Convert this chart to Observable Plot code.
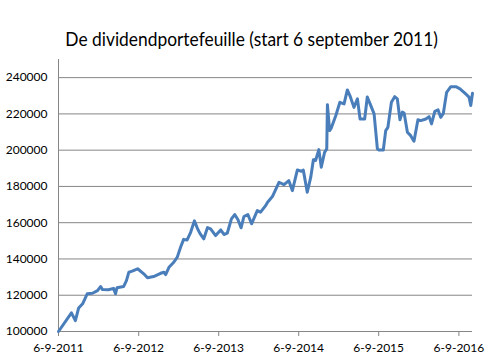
<!DOCTYPE html>
<html><head><meta charset="utf-8">
<script src="https://cdn.jsdelivr.net/npm/d3@7"></script>
<script src="https://cdn.jsdelivr.net/npm/@observablehq/plot@0.6"></script>
<style>
html,body{margin:0;padding:0;background:#fff;}
#title{height:50px;box-sizing:border-box;padding-top:29px;padding-left:17px;text-align:center;font-family:Lato,"Open Sans",sans-serif;font-size:19px;line-height:20px;color:#000;white-space:nowrap;}
#title span{display:inline-block;transform:scaleX(0.915);transform-origin:center;}
#chart svg{display:block;}
</style></head><body>
<div id="title"><span>De dividendportefeuille (start 6 september 2011)</span></div>
<div id="chart"></div>
<script>
const dates = [
"2011-09-06","2011-11-04","2011-11-22","2011-12-07","2011-12-25","2012-01-15","2012-02-08","2012-03-02","2012-03-16","2012-03-25",
"2012-04-21","2012-05-14","2012-05-23","2012-05-30","2012-06-29","2012-07-12","2012-07-23","2012-08-07","2012-09-01","2012-09-29",
"2012-10-16","2012-11-13","2012-12-15","2012-12-30","2013-01-07","2013-01-22","2013-02-13","2013-03-01","2013-03-16","2013-03-30",
"2013-04-15","2013-05-01","2013-05-18","2013-06-02","2013-06-13","2013-06-30","2013-07-17","2013-07-31","2013-08-23","2013-09-15",
"2013-09-30","2013-10-15","2013-11-03","2013-11-18","2013-12-03","2013-12-17","2013-12-30","2014-01-17","2014-02-03","2014-03-01",
"2014-03-16","2014-04-08","2014-04-17","2014-05-09","2014-06-08","2014-07-01","2014-07-23","2014-08-08","2014-08-31","2014-09-18",
"2014-09-27","2014-10-15","2014-10-31","2014-11-12","2014-11-22","2014-12-07","2014-12-18","2015-01-02","2015-01-12","2015-01-15",
"2015-01-25","2015-02-02","2015-02-22","2015-03-13","2015-04-01","2015-04-16","2015-04-28","2015-05-16","2015-06-01","2015-06-13",
"2015-07-04","2015-07-16","2015-08-01","2015-08-16","2015-08-31","2015-09-07","2015-09-27","2015-10-08","2015-10-18","2015-11-03",
"2015-11-18","2015-11-30","2015-12-12","2015-12-23","2015-12-31","2016-01-15","2016-01-30","2016-02-14","2016-03-03","2016-03-16",
"2016-04-08","2016-04-23","2016-05-04","2016-05-19","2016-06-03","2016-06-15","2016-06-27","2016-07-12","2016-07-31","2016-08-23",
"2016-09-11","2016-10-07","2016-10-22","2016-10-30","2016-11-07"
];
const values = [
100000,110300,106000,113000,115300,120800,121100,122500,124800,123100,
123000,123800,120800,124100,124800,128100,132700,133300,134600,131800,
129600,130300,132100,132700,131400,135400,138200,141000,146500,150800,
150500,154700,161000,156500,154000,151100,157300,156600,152900,156000,
153500,154200,162100,164500,161600,157200,163400,164500,159400,166700,
165800,169400,171300,174400,182300,181000,183200,177700,189100,188400,
189000,176800,185100,194700,194300,200300,190600,198800,200700,225100,
210800,212300,219000,226400,225500,233200,230000,223600,228300,217200,
217200,229300,224600,220000,200700,200100,200100,210800,212600,226400,
229500,228300,216800,221000,220500,209900,208000,204900,216800,216300,
217200,218500,214500,221400,222200,218100,220300,231900,235000,235000,
233800,231000,229300,224600,231400
];
const yTicks = [100000,120000,140000,160000,180000,200000,220000,240000];
const xTicks = ["2011-09-06","2012-09-06","2013-09-06","2014-09-06","2015-09-06","2016-09-06"];

const data = dates.map((d,i)=>({date:new Date(d), value:values[i]}));
const xTickDates = xTicks.map(d=>new Date(d));
const fmtDate = d => `${d.getUTCDate()}-${d.getUTCMonth()+1}-${d.getUTCFullYear()}`;
const gray = "#868686";

const chart = Plot.plot({
  width: 486,
  height: 311,
  marginLeft: 58,
  marginRight: 14,
  marginTop: 9,
  marginBottom: 30,
  style: {fontFamily: "Lato, 'Open Sans', sans-serif", fontSize: "12px", color: "#000", background: "#fff"},
  x: {type: "utc", domain: [data[0].date, data[data.length-1].date]},
  y: {domain: [100000, 250000]},
  marks: [
    Plot.ruleY(yTicks, {stroke: gray, strokeWidth: 1, strokeOpacity: 1}),
    Plot.ruleX([data[0].date], {stroke: gray, strokeWidth: 1}),
    Plot.axisY({ticks: yTicks, tickFormat: d => String(d), tickSize: 0, tickPadding: 11, label: null, fill: "#000"}),
    Plot.axisX({ticks: xTickDates, tickFormat: fmtDate, tickSize: 5, tickPadding: 7, label: null, stroke: gray, strokeOpacity: 1, fill: "#000"}),
    Plot.line(data, {x: "date", y: "value", stroke: "#4a7ebb", strokeWidth: 3, strokeLinejoin: "round", curve: "linear"})
  ]
});
document.getElementById("chart").appendChild(chart);
</script>
</body></html>
